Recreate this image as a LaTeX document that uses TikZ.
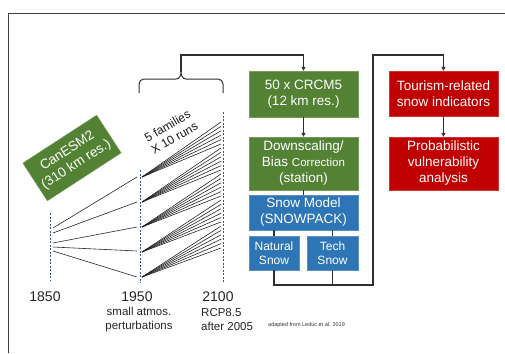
\documentclass[tikz,border=0pt]{standalone}
\usepackage{fontspec}
\setmainfont{Liberation Sans}
\usetikzlibrary{arrows.meta,calc}
\definecolor{boxgreen}{HTML}{548235}
\definecolor{boxblue}{HTML}{2E75B6}
\definecolor{boxred}{HTML}{C00000}
\definecolor{dashblue}{HTML}{2F5597}
\definecolor{conn}{HTML}{303030}
\begin{document}
\begin{tikzpicture}[x=1pt,y=-1pt,
  gbox/.style={fill=boxgreen,draw=boxgreen!80!white,text=white,align=center,inner sep=0pt,font=\fontsize{13.5}{16}\selectfont},
  bbox/.style={fill=boxblue,draw=boxblue!80!white,text=white,align=center,inner sep=0pt,font=\fontsize{13.5}{16}\selectfont},
  rbox/.style={fill=boxred,draw=boxred!80!white,text=white,align=center,inner sep=0pt,font=\fontsize{13.5}{16}\selectfont},
  conline/.style={draw=conn,line width=1.1pt},
  arr/.style={conline,-{Triangle[length=4pt,width=4pt]}},
  timeline/.style={draw=dashblue,line width=0.9pt,dash pattern=on 2pt off 1.5pt},
  fan/.style={draw=black!85,line width=0.6pt},
  yearlbl/.style={font=\fontsize{14}{16}\selectfont,text=black!85},
  sublbl/.style={font=\fontsize{11.5}{13}\selectfont,text=black!85,inner sep=0pt}
]
\useasboundingbox (0,0) rectangle (505,353);
\fill[white] (0,0) rectangle (505,353);
% frame
\draw[draw=black!75,line width=0.9pt] (8,353) -- (8,13) -- (505,13);

% boxes
\node[gbox,minimum width=109pt,minimum height=46pt] (crcm) at (303.5,94) {50 x CRCM5\\(12 km res.)};
\node[gbox,minimum width=109pt,minimum height=53pt] (down) at (303.5,163.5) {Downscaling/\\Bias {\fontsize{11.5}{16}\selectfont Correction}\\(station)};
\node[bbox,minimum width=109pt,minimum height=35pt] (snow) at (303.5,212.5) {Snow Model\\(SNOWPACK)};
\node[bbox,minimum width=50pt,minimum height=34pt,font=\fontsize{12}{14}\selectfont] (nat) at (274,253) {Natural\\Snow};
\node[bbox,minimum width=51pt,minimum height=34pt,font=\fontsize{12}{14}\selectfont] (tech) at (332.5,253) {Tech\\Snow};
\node[rbox,minimum width=109pt,minimum height=45pt] (tour) at (443.5,93.5) {Tourism-related\\snow indicators};
\node[rbox,minimum width=109pt,minimum height=53pt] (prob) at (443.5,163.5) {Probabilistic\\vulnerability\\analysis};

\node[gbox,rotate=33,minimum width=88pt,minimum height=45pt,font=\fontsize{13.5}{16.5}\selectfont] (can) at (72,158) {CanESM2\\(310 km res.)};

% brace
\coordinate (brL) at (139,93);
\coordinate (brR) at (223,93);
\coordinate (brTip) at (181,72);
\coordinate (brTop) at (181,55);
\draw[conline,line width=1pt] (brL) -- (139,84) to[out=90,in=180] (144,79) -- (176,79) to[out=0,in=-90] (brTip)
  to[out=-90,in=180] (186,79) -- (218,79) to[out=0,in=90] (223,84) -- (brR);
\draw[arr] (brTip) -- (brTop) -| (crcm.north);

% box connectors
\draw[arr] (crcm) -- (down);
\draw[conline] (down) -- (snow);
\draw[conline] (snow.south -| nat.north) -- (nat.north);
\draw[conline] (snow.south -| tech.north) -- (tech.north);
\coordinate (loopA) at (373,285);
\coordinate (loopB) at (373,55);
\draw[arr] (nat.south) -- (nat.south |- loopA) -- (loopA) -- (loopB) -| (tour.north);
\draw[conline] (tech.south) -- (tech.south |- loopA);
\draw[arr] (tour) -- (prob);

% timelines
\coordinate (t1a) at (50,213); \coordinate (t1b) at (50,281);
\coordinate (t2a) at (140,170); \coordinate (t2b) at (140,283);
\coordinate (t3a) at (223,112); \coordinate (t3b) at (223,283);
\draw[timeline] (t1a) -- (t1b);
\draw[timeline] (t2a) -- (t2b);
\draw[timeline] (t3a) -- (t3b);

% fans 1850 -> 1950
\foreach \ys/\ye in {228/177, 233/202, 243/227, 247/251, 251/277}{
  \draw[fan] (53,\ys) -- (137,\ye);
}
% fans 1950 -> 2100
\foreach \k in {0,...,4}{
  \foreach \j in {0,...,5}{
    \draw[fan] (142,{177+25*\k}) -- (221,{122+26*\k+4.4*\j});
  }
}

% labels
\node[yearlbl] (y1850) at (45,297) {1850};
\node[yearlbl] (y1950) at (137,297) {1950};
\node[yearlbl] (y2100) at (218,297) {2100};
\node[sublbl,align=center] (pert) at (139,319.5) {small atmos.\\[1pt]perturbations};
\node[sublbl,align=left,anchor=west] (rcp) at (201,319.5) {RCP8.5\\[1pt]after 2005};
\node[font=\fontsize{5.5}{6}\selectfont,anchor=west,inner sep=0pt,text=black!80] (adapt) at (268,325) {adapted from Leduc et al. 2019};
\node[font=\fontsize{12}{14}\selectfont,rotate=30,align=center,text=black!90] (fam) at (171,132) {5 families\\X 10 runs};
\end{tikzpicture}
\end{document}
